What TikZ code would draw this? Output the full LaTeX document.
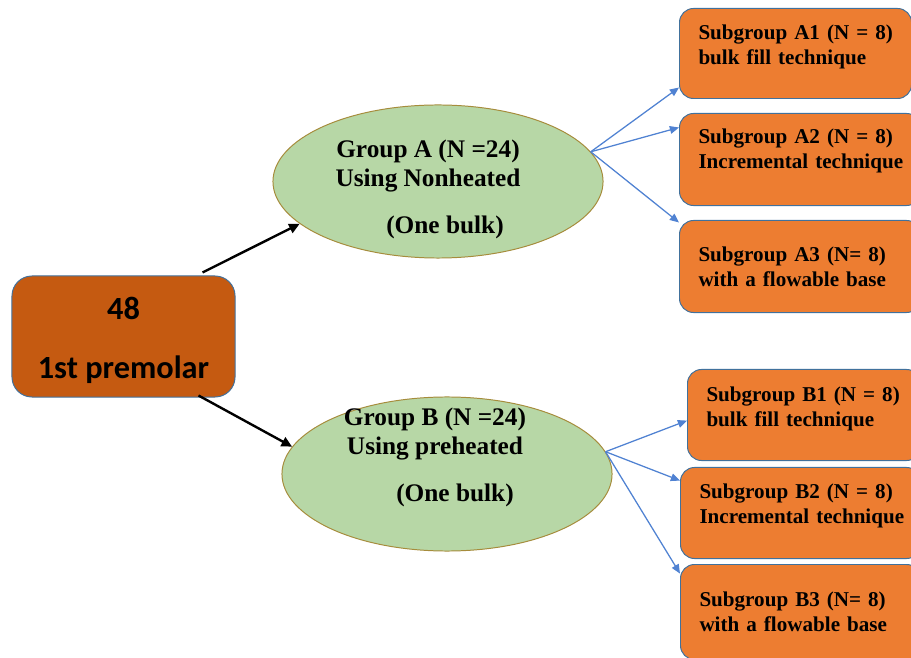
\documentclass[tikz,border=0pt]{standalone}
\usepackage{fontspec}
\newfontfamily\serfont{Liberation Serif}
\newfontfamily\calfont{Carlito}
\usetikzlibrary{shapes.geometric,arrows.meta}
\definecolor{rootfill}{RGB}{197,90,17}
\definecolor{subfill}{RGB}{237,125,49}
\definecolor{grpfill}{RGB}{183,215,166}
\definecolor{grpline}{RGB}{166,140,60}
\definecolor{boxline}{RGB}{65,113,156}
\definecolor{arrblue}{RGB}{80,130,210}
\newcommand{\subtxt}[3]{\hspace*{0.475cm}#1\\\hspace*{0.475cm}#2\rule[-#3]{0pt}{0pt}}

\tikzset{
  rootbox/.style={draw=boxline, line width=0.7pt, fill=rootfill, rounded corners=0.5cm,
    minimum width=5.575cm, minimum height=3.025cm, align=center,
    font=\calfont\bfseries\fontsize{23}{28}\selectfont},
  grp/.style={ellipse, draw=grpline, line width=0.7pt, fill=grpfill, inner sep=-0.4cm,
    align=center, font=\serfont\bfseries\fontsize{18}{20.5}\selectfont},
  subbox/.style={draw=boxline, line width=0.7pt, fill=subfill, rounded corners=0.35cm,
    anchor=north west, inner xsep=0pt, text width=#1, align=left,
    font=\serfont\bfseries\fontsize{15}{17.7}\selectfont},
  subbox/.default=6cm,
  blk/.style={line width=1.7pt, -{Triangle[length=7.5pt,width=7pt]}},
  blu/.style={draw=arrblue, line width=0.9pt, -{Triangle[length=6.5pt,width=5.5pt]}}
}

\begin{document}
\begin{tikzpicture}[x=0.025cm, y=0.025cm]
\useasboundingbox (0,0) rectangle (911,657);
\clip (0,0) rectangle (911,657);
% root
\node[rootbox] (root) at (123.5,320.5) {\rule{0pt}{21.5pt}48\\[14pt]1st premolar};
% groups
\node[grp, minimum width=8.25cm, minimum height=3.825cm] (grpA) at (438,475.5)
  {\rule{0pt}{23.5pt}Group A (N =24)\hspace*{0.5cm}\mbox{}\\Using Nonheated\hspace*{0.5cm}\mbox{}\\[12.8pt]\hspace*{0.35cm}(One bulk)};
\node[grp, minimum width=8.25cm, minimum height=3.85cm] (grpB) at (447,183)
  {Group B (N =24)\hspace*{0.6cm}\mbox{}\\Using preheated\hspace*{0.6cm}\mbox{}\\[12.8pt]\hspace*{0.4cm}(One bulk)\rule[-27pt]{0pt}{0pt}};
% subgroups A
\node[subbox=5.8cm, minimum height=2.25cm] (sA1) at (679,649)
  {\subtxt{Subgroup A1 (N = 8)}{bulk fill technique}{0.425cm}};
\node[subbox=6.025cm, minimum height=2.3cm] (sA2) at (679,544)
  {\subtxt{Subgroup A2 (N = 8)}{Incremental technique}{0.525cm}};
\node[subbox=6.025cm, minimum height=2.3cm] (sA3) at (679,437)
  {\subtxt{Subgroup A3 (N= 8)}{with a flowable base}{0cm}};
% subgroups B
\node[subbox=5.825cm, minimum height=2.275cm] (sB1) at (687,288)
  {\subtxt{Subgroup B1 (N = 8)}{bulk fill technique}{0.425cm}};
\node[subbox, minimum height=2.275cm] (sB2) at (680,190)
  {\subtxt{Subgroup B2 (N = 8)}{Incremental technique}{0.45cm}};
\node[subbox, minimum height=2.375cm] (sB3) at (680,93)
  {\subtxt{Subgroup B3 (N= 8)}{with a flowable base}{0cm}};
% arrows
\draw[blk] ([xshift=-0.825cm,yshift=0.075cm]root.north east) -- (grpA.197);
\draw[blk] ([xshift=-0.925cm,yshift=0.05cm]root.south east) -- (grpB.170);
\foreach \s/\d in {sA1/-0.85cm, sA2/0.8cm, sA3/1.1cm}
  \draw[blu] (grpA.11) -- ([yshift=\d]\s.west);
\foreach \s/\d in {sB1/-0.14cm, sB2/0.81cm, sB3/0.96cm}
  \draw[blu] (grpB.8) -- ([yshift=\d]\s.west);
\end{tikzpicture}
\end{document}
